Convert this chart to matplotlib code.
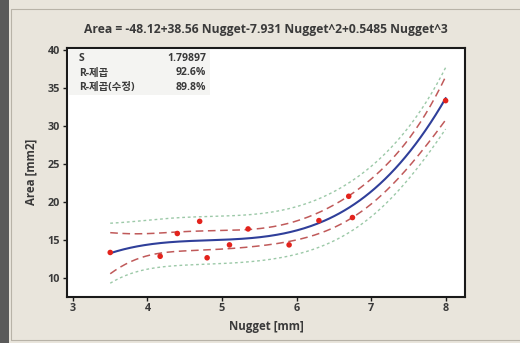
import matplotlib
matplotlib.use("Agg")
import matplotlib.pyplot as plt
import numpy as np
from matplotlib.patches import Rectangle

plt.rcParams['font.family'] = ['Open Sans', 'Noto Sans CJK KR', 'DejaVu Sans']
plt.rcParams['axes.unicode_minus'] = False

# 데이터
nugget = [3.5, 4.17, 4.4, 4.7, 4.8, 5.1, 5.35, 5.9, 6.3, 6.7, 6.75, 8.0]
area = [13.3, 12.8, 15.8, 17.4, 12.6, 14.3, 16.4, 14.3, 17.5, 20.7, 17.9, 33.3]
coef = [-48.12, 38.56, -7.931, 0.5485]  # 상수, 1차, 2차, 3차
s_value = 1.79897
stat_names = ["S", "R-제곱", "R-제곱(수정)"]
stat_values = ["1.79897", "92.6%", "89.8%"]
title = "Area = -48.12+38.56 Nugget-7.931 Nugget^2+0.5485 Nugget^3"
t_crit = 1.60

bg = '#e9e5dc'
fig = plt.figure(figsize=(5.2, 3.43), dpi=100, facecolor=bg)
# 왼쪽 어두운 띠와 안쪽 테두리
fig.patches.append(Rectangle((0, 0), 9 / 520, 1, transform=fig.transFigure,
                             facecolor='#5a5a5a', edgecolor='none', zorder=0))
fig.patches.append(Rectangle((11 / 520, 3 / 343), 1.2, 331 / 343, transform=fig.transFigure,
                             facecolor='none', edgecolor='#b8b3a8', lw=0.8, zorder=0))

ax = fig.add_axes([67 / 520, 1 - 296.5 / 343, (465 - 67) / 520, (296.5 - 47.5) / 343])
ax.set_facecolor('white')

x = np.array(nugget)
y = np.array(area)
X = np.vander(x, 4, increasing=True)
xtx_inv = np.linalg.inv(X.T @ X)

xs = np.linspace(x.min(), x.max(), 200)
Xs = np.vander(xs, 4, increasing=True)
fit = Xs @ np.array(coef)
h = np.einsum('ij,jk,ik->i', Xs, xtx_inv, Xs)
ci = t_crit * s_value * np.sqrt(h)
pi = t_crit * s_value * np.sqrt(1 + h)

for sgn in (1, -1):
    ax.plot(xs, fit + sgn * pi, color='#9cc9a8', lw=1.0, ls=(0, (2, 2)), zorder=2)
    ax.plot(xs, fit + sgn * ci, color='#c05a5a', lw=1.1, ls=(0, (5, 3)), zorder=3)
ax.plot(xs, fit, color='#2f3f9a', lw=1.5, zorder=4)
ax.scatter(x, y, s=16, color='#e3231c', zorder=5, edgecolors='none')

ax.set_xlim(2.92, 8.26)
ax.set_ylim(7.5, 40.3)
ax.set_xticks([3, 4, 5, 6, 7, 8])
ax.set_yticks([10, 15, 20, 25, 30, 35, 40])

txt = '#3a3a3a'
for sp in ax.spines.values():
    sp.set_color('#1a1a1a')
    sp.set_linewidth(1.5)
ax.tick_params(direction='out', length=3, width=1, colors='#1a1a1a',
               labelsize=7.8, labelcolor=txt, pad=2)
for lab in ax.get_xticklabels() + ax.get_yticklabels():
    lab.set_fontweight('bold')

ax.set_xlabel("Nugget [mm]", fontsize=8.3, fontweight='bold', color=txt, labelpad=4)
ax.set_ylabel("Area [mm2]", fontsize=8.3, fontweight='bold', color=txt, labelpad=7)
fig.text(266 / 520, 1 - 30 / 343, title, ha='center', va='center',
         fontsize=8.7, fontweight='bold', color=txt)

# 통계 표
ax.add_patch(Rectangle((0.005, 0.81), 0.355, 0.185, transform=ax.transAxes,
                       facecolor='#f4f4f2', edgecolor='none', zorder=6))
for i, (nm, val) in enumerate(zip(stat_names, stat_values)):
    yy = 1 - (11 + 14.5 * i) / 249
    ax.text(0.03, yy, nm, transform=ax.transAxes, ha='left', va='center',
            fontsize=7.5, fontweight='bold', color=txt, zorder=7)
    ax.text(0.35, yy, val, transform=ax.transAxes, ha='right', va='center',
            fontsize=7.5, fontweight='bold', color=txt, zorder=7)

fig.savefig("out.png", dpi=100, facecolor=bg)
